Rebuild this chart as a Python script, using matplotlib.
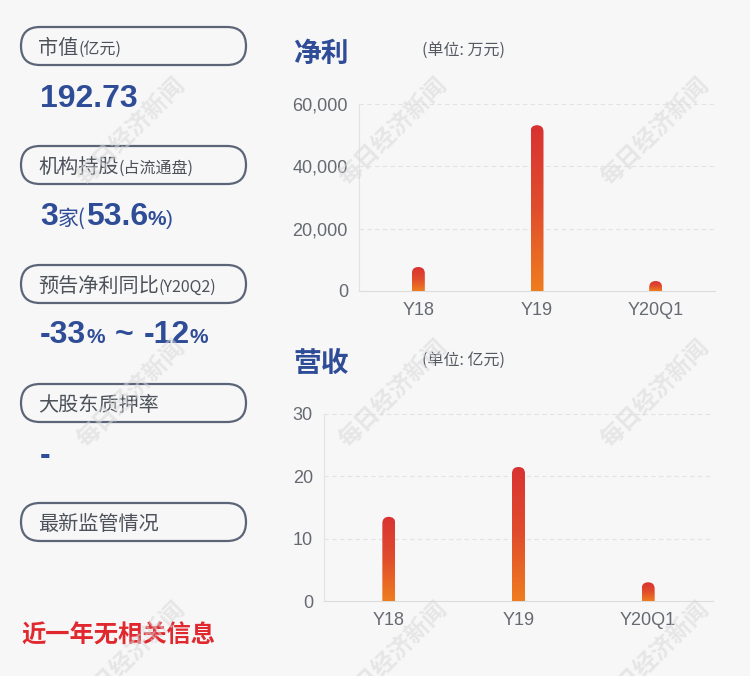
import numpy as np
import matplotlib
matplotlib.use('Agg')
import matplotlib.pyplot as plt
from matplotlib.patches import FancyBboxPatch
from matplotlib.colors import LinearSegmentedColormap
from matplotlib.transforms import IdentityTransform
from matplotlib.ticker import FuncFormatter

plt.rcParams['font.family'] = ['Liberation Sans', 'Noto Sans CJK SC', 'DejaVu Sans']

# 数据
categories = ['Y18', 'Y19', 'Y20Q1']
net_profit = [7700, 53200, 3200]        # 万元
revenue = [13.5, 21.5, 3.0]             # 亿元
net_ticks = [0, 20000, 40000, 60000]
rev_ticks = [0, 10, 20, 30]

labels = [('市值', '(亿元)'), ('机构持股', '(占流通盘)'), ('预告净利同比', '(Y20Q2)'),
          ('大股东质押率', ''), ('最新监管情况', '')]
market_cap = '192.73'
inst_count = '3'
inst_pct = '53.6'
forecast_lo = '-33'
forecast_hi = '-12'
pledge = '-'
notice = '近一年无相关信息'

BG = '#f7f7f8'
BLUE = '#2f4d97'
GREY = '#666a70'
W, H = 750, 676

fig = plt.figure(figsize=(W / 100, H / 100), dpi=100, facecolor=BG)

# 像素坐标的底层画布
base = fig.add_axes([0, 0, 1, 1], zorder=0)
base.set_xlim(0, W)
base.set_ylim(H, 0)
base.axis('off')

renderer = fig.canvas.get_renderer()


def put_runs(x, y, parts):
    """按顺序绘制不同字号的文字片段"""
    for s, kw in parts:
        if s is None:
            x += kw
            continue
        t = base.text(x, y, s, va='baseline', ha='left', **kw)
        x += t.get_window_extent(renderer=renderer).width


box_top = 27
step = 119
for i, (main, sub) in enumerate(labels):
    y0 = box_top + i * step
    base.add_patch(FancyBboxPatch((21, y0), 225, 38,
                                  boxstyle='round,pad=0,rounding_size=19',
                                  fc='none', ec='#5b6577', lw=1.6))
    put_runs(38, y0 + 27, [(main, dict(fontsize=14.5, color='#4d525a', family='Noto Sans CJK SC')),
                          (sub, dict(fontsize=11.5, color='#4d525a', family='Noto Sans CJK SC'))])

big = dict(fontsize=23, color=BLUE, fontweight='bold', family='Liberation Sans')
small = dict(fontsize=15, color=BLUE, fontweight='bold', family='Liberation Sans')
cjk = dict(fontsize=15, color=BLUE, family='Noto Sans CJK SC')

put_runs(40, 107, [(market_cap, big)])
put_runs(40, 225, [(inst_count, big), ('家(', cjk), (inst_pct, big), ('%', small),
                   (')', dict(fontsize=15, color=BLUE, family='Liberation Sans'))])
put_runs(40, 343, [(forecast_lo, big), ('%', small), (None, 10), ('~', big), (None, 10),
                   (forecast_hi, big), ('%', small)])
put_runs(40, 464, [(pledge, big)])
base.text(21, 643, notice, fontsize=17.5, color='#e0282e', fontweight='bold',
          family='Noto Sans CJK SC', va='baseline')

cmap = LinearSegmentedColormap.from_list('bar', ['#ef7d1f', '#e04d2c', '#d93232'])


def bar_chart(rect, values, ticks, fmt, title, unit, title_y):
    left, top, right, bottom = rect
    ax = fig.add_axes([left / W, 1 - bottom / H, (right - left) / W, (bottom - top) / H], zorder=2)
    ax.set_facecolor('none')
    x = np.arange(len(categories))
    bw = 13 / ((right - left) / len(categories))
    bars = ax.bar(x, values, width=bw, color='none', edgecolor='none')
    ax.set_xlim(-0.5, len(categories) - 0.5)
    ax.set_ylim(ticks[0], ticks[-1])

    # 渐变圆头柱子
    grad = np.linspace(0, 1, 256).reshape(-1, 1)
    for b in bars:
        bx, bwid, bh = b.get_x(), b.get_width(), b.get_height()
        im = ax.imshow(grad, cmap=cmap, origin='lower', aspect='auto',
                       extent=[bx, bx + bwid, 0, bh], zorder=3)
        (px0, py0), (px1, py1) = ax.transData.transform([(bx, 0), (bx + bwid, bh)])
        r = (px1 - px0) / 2
        clip = FancyBboxPatch((px0, py0 - r), px1 - px0, py1 - py0 + r,
                              boxstyle=f'round,pad=0,rounding_size={r}',
                              transform=IdentityTransform())
        im.set_clip_path(clip)
    ax.set_xlim(-0.5, len(categories) - 0.5)
    ax.set_ylim(ticks[0], ticks[-1])

    ax.set_yticks(ticks)
    ax.yaxis.set_major_formatter(FuncFormatter(fmt))
    ax.set_xticks(x)
    ax.set_xticklabels(categories)
    ax.tick_params(length=0, labelsize=13, labelcolor=GREY, pad=8)
    for t in ticks[1:]:
        ax.axhline(t, color='#e3e3e3', lw=0.8, ls=(0, (4, 3)), zorder=1, clip_on=False)
    for s in ['top', 'right']:
        ax.spines[s].set_visible(False)
    ax.spines['left'].set_color('#e3e3e3')
    ax.spines['bottom'].set_color('#dcdcdc')

    base.text(293, title_y, title, fontsize=20, color=BLUE, fontweight='heavy',
              family='Noto Sans CJK SC', va='baseline')
    base.text(422, title_y - 7, unit, fontsize=11.5, color='#555a62',
              family='Noto Sans CJK SC', va='baseline')
    return ax


bar_chart((359, 104, 715, 291), net_profit, net_ticks, lambda v, p: f'{v:,.0f}',
          '净利', '(单位: 万元)', 62)
bar_chart((324, 414, 713, 601), revenue, rev_ticks, lambda v, p: f'{v:.0f}',
          '营收', '(单位: 亿元)', 372)

# 水印
wm = fig.add_axes([0, 0, 1, 1], zorder=5)
wm.set_xlim(0, W)
wm.set_ylim(H, 0)
wm.axis('off')
for cx in [131, 393, 655]:
    for cy in [131, 393, 655]:
        wm.text(cx, cy, '每日经济新闻', rotation=45, fontsize=17, fontweight='bold',
                color='#d8d8d8', alpha=0.55, ha='center', va='center',
                family='Noto Sans CJK SC', rotation_mode='anchor')

fig.savefig('out.png', dpi=100, facecolor=BG)
